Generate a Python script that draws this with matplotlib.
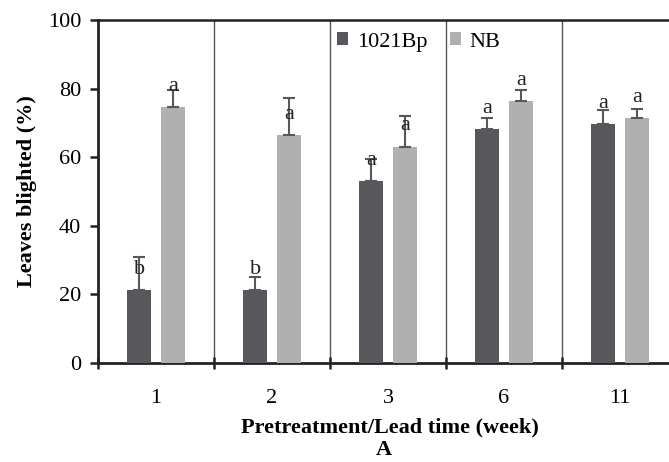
import matplotlib
matplotlib.use("Agg")
import matplotlib.pyplot as plt
import numpy as np

plt.rcParams['font.family'] = ['Liberation Serif', 'DejaVu Serif']

# Data
weeks = ['1', '2', '3', '6', '11']
strain_1021 = [21.3, 21.3, 53.1, 68.1, 69.8]
strain_1021_err = [9.5, 3.7, 6.5, 3.4, 4.0]
strain_nb = [74.6, 66.5, 63.1, 76.4, 71.3]
strain_nb_err = [5.0, 10.7, 9.0, 3.2, 2.7]
letters_1021 = ['b', 'b', 'a', 'a', 'a']
letters_nb = ['a', 'a', 'a', 'a', 'a']

dark = '#58585c'
light = '#b0b0b0'
fs = 16

fig = plt.figure(figsize=(6.69, 4.62), dpi=100)
ax = fig.add_axes([98/669, 1 - 363/462, 580/669, 343/462])

x = np.arange(len(weeks))
w = 0.21
off = 0.145

ax.bar(x - off, strain_1021, w, color=dark, label='1021Bp', zorder=3)
ax.bar(x + off, strain_nb, w, color=light, label='NB', zorder=3)
ax.errorbar(x - off, strain_1021, yerr=[np.zeros(5), strain_1021_err], fmt='none',
            ecolor=dark, elinewidth=1.5, capsize=4, capthick=1.5, zorder=4)
ax.errorbar(x + off, strain_nb, yerr=[np.zeros(5), strain_nb_err], fmt='none',
            ecolor=dark, elinewidth=1.5, capsize=4, capthick=1.5, zorder=4)

# significance letters
for xi, v, t in zip(x - off, strain_1021, letters_1021):
    ax.text(xi, v + 6, t, ha='center', va='center', fontsize=fs, color='#222222', zorder=5)
for xi, v, t in zip(x + off, strain_nb, letters_nb):
    ax.text(xi, v + 6, t, ha='center', va='center', fontsize=fs, color='#222222', zorder=5)

# separators between groups
for b in np.arange(0.5, len(weeks) - 0.5, 1):
    ax.axvline(b, color='#555555', lw=1, zorder=1)

ax.set_xlim(-0.5, len(weeks) - 0.5)
ax.set_ylim(0, 100)
ax.set_yticks(np.arange(0, 101, 20))
ax.set_xticks(np.arange(-0.5, len(weeks), 1))
ax.set_xticklabels([])
ax.set_xticks(x, minor=True)
ax.set_xticklabels(weeks, minor=True)
ax.tick_params(axis='x', which='minor', length=0, pad=19, labelsize=fs)
ax.tick_params(axis='x', which='major', direction='inout', length=9, width=1.8, color='#222222')
ax.tick_params(axis='y', direction='out', length=6, width=1.8, labelsize=fs, pad=6, color='#222222')

for s in ['left', 'bottom', 'top']:
    ax.spines[s].set_linewidth(2)
    ax.spines[s].set_color('#222222')
ax.spines['top'].set_linewidth(1.8)
ax.spines['right'].set_visible(False)

ax.set_ylabel('Leaves blighted (%)', fontsize=fs, fontweight='bold', labelpad=8)
fig.text(390/669, 1 - 427/462, 'Pretreatment/Lead time (week)', ha='center', va='center',
         fontsize=fs, fontweight='bold')
fig.text(384/669, 1 - 450/462, 'A', ha='center', va='center', fontsize=fs, fontweight='bold')

ax.legend(loc='center left', bbox_to_anchor=(0.385, 0.936), ncol=2, frameon=False,
          fontsize=fs, handlelength=0.5, handleheight=0.5, handletextpad=0.4,
          columnspacing=1.0, borderpad=0.2)

fig.savefig('out.png', dpi=100)
